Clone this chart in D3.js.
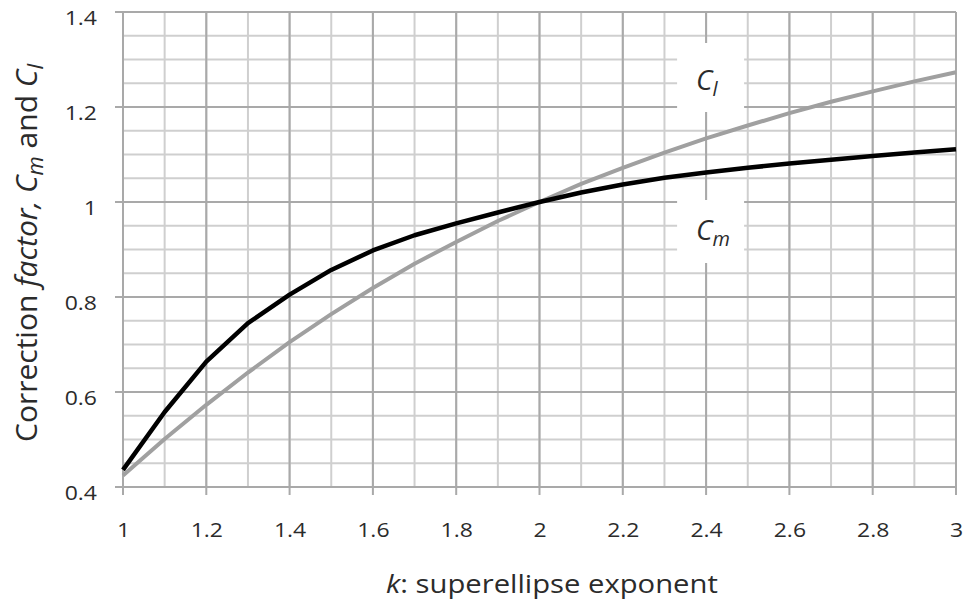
<!DOCTYPE html>
<html>
<head>
<meta charset="utf-8">
<script src="https://cdn.jsdelivr.net/npm/d3@7"></script>
<style>
  body { margin: 0; background: #fff; }
  svg { display: block; }
  text { font-family: "Open Sans", sans-serif; fill: #2b2b2b; }
</style>
</head>
<body>
<svg id="chart" width="967" height="611"></svg>
<script>
// superellipse exponent k at 0.1 steps
var kValues = [1.0, 1.1, 1.2, 1.3, 1.4, 1.5, 1.6, 1.7, 1.8, 1.9, 2.0,
               2.1, 2.2, 2.3, 2.4, 2.5, 2.6, 2.7, 2.8, 2.9, 3.0];
// C_m (black curve)
var cmValues = [0.436, 0.558, 0.664, 0.745, 0.805, 0.857, 0.898, 0.930, 0.955, 0.978, 1.000,
                1.020, 1.037, 1.051, 1.062, 1.072, 1.081, 1.089, 1.097, 1.104, 1.111];
// C_l (grey curve)
var clValues = [0.424, 0.501, 0.573, 0.641, 0.705, 0.764, 0.819, 0.870, 0.916, 0.960, 1.000,
                1.038, 1.072, 1.104, 1.134, 1.161, 1.187, 1.211, 1.233, 1.254, 1.273];

var xTicks = [1, 1.2, 1.4, 1.6, 1.8, 2, 2.2, 2.4, 2.6, 2.8, 3];
var yTicks = [0.4, 0.6, 0.8, 1, 1.2, 1.4];

var svg = d3.select('#chart');
var x = d3.scaleLinear().domain([1, 3]).range([123, 956]);
var y = d3.scaleLinear().domain([0.4, 1.4]).range([487, 12]);

// horizontal text in the original is a little wider than the font gives
var stretch = 1.15;

var majorColor = '#a9a9a9';
var minorColor = '#cfcfcf';

// minor grid: 0.1 on k, 0.05 on the factor
var grid = svg.append('g');
grid.selectAll('.vminor')
  .data(x.ticks(20))
  .enter().append('line')
  .attr('x1', function(d) { return x(d); })
  .attr('x2', function(d) { return x(d); })
  .attr('y1', y(0.4)).attr('y2', y(1.4))
  .attr('stroke', minorColor).attr('stroke-width', 2);

grid.selectAll('.hminor')
  .data(y.ticks(20))
  .enter().append('line')
  .attr('x1', x(1)).attr('x2', x(3))
  .attr('y1', function(d) { return y(d); })
  .attr('y2', function(d) { return y(d); })
  .attr('stroke', minorColor).attr('stroke-width', 2);

// major grid lines, with the little tick stubs outside the box
grid.selectAll('.vmajor')
  .data(xTicks)
  .enter().append('line')
  .attr('x1', function(d) { return x(d); })
  .attr('x2', function(d) { return x(d); })
  .attr('y1', y(1.4)).attr('y2', y(0.4) + 8)
  .attr('stroke', majorColor).attr('stroke-width', 2);

grid.selectAll('.hmajor')
  .data(yTicks)
  .enter().append('line')
  .attr('x1', x(1) - 8).attr('x2', x(3))
  .attr('y1', function(d) { return y(d); })
  .attr('y2', function(d) { return y(d); })
  .attr('stroke', majorColor).attr('stroke-width', 2);

// tick labels through d3 axes, then restyled
var xAxis = svg.append('g')
  .attr('transform', 'translate(0,' + y(0.4) + ')')
  .call(d3.axisBottom(x).tickValues(xTicks).tickSize(0).tickFormat(d3.format('')));
var yAxis = svg.append('g')
  .attr('transform', 'translate(' + x(1) + ',0)')
  .call(d3.axisLeft(y).tickValues(yTicks).tickSize(0).tickFormat(d3.format('')));

[xAxis, yAxis].forEach(function(ax) {
  ax.select('.domain').remove();
  ax.selectAll('text')
    .attr('font-family', '"Open Sans", sans-serif')
    .attr('font-size', 20)
    .style('fill', '#2b2b2b');
});
xAxis.selectAll('text')
  .attr('y', 50).attr('dy', 0)
  .attr('transform', 'scale(' + stretch + ',1)');
yAxis.selectAll('text')
  .attr('x', -26 / stretch).attr('y', 12).attr('dy', 0)
  .attr('transform', 'scale(' + stretch + ',1)');

// white boxes behind the curve names
svg.append('rect')
  .attr('x', x(2.4) - 29).attr('y', 43).attr('width', 67).attr('height', 69)
  .attr('fill', '#fff');
svg.append('rect')
  .attr('x', x(2.4) - 29).attr('y', 200).attr('width', 67).attr('height', 63)
  .attr('fill', '#fff');

// curves
var curve = d3.line()
  .x(function(d, i) { return x(kValues[i]); })
  .y(function(d) { return y(d); });

svg.append('path')
  .datum(clValues)
  .attr('d', curve)
  .attr('fill', 'none')
  .attr('stroke', '#a0a0a0')
  .attr('stroke-width', 4)
  .attr('stroke-linejoin', 'round');

svg.append('path')
  .datum(cmValues)
  .attr('d', curve)
  .attr('fill', 'none')
  .attr('stroke', '#000')
  .attr('stroke-width', 4.5)
  .attr('stroke-linejoin', 'round');

// curve names
function curveName(px, py, sub) {
  var t = svg.append('text')
    .attr('x', px).attr('y', py)
    .attr('font-size', 28)
    .attr('font-style', 'italic');
  t.append('tspan').text('C');
  t.append('tspan').attr('font-size', 20).attr('dy', 6).text(sub);
}
curveName(696, 90, 'l');
curveName(696, 240, 'm');

// x title
var xt = svg.append('text')
  .attr('transform', 'translate(386,593) scale(1.17,1)')
  .attr('font-size', 25);
xt.append('tspan').attr('font-style', 'italic').text('k');
xt.append('tspan').text(': superellipse exponent');

// y title (rotated)
var yt = svg.append('text')
  .attr('transform', 'translate(37,253) rotate(-90)')
  .attr('text-anchor', 'middle')
  .attr('font-size', 30);
yt.append('tspan').text('Correction ');
yt.append('tspan').attr('font-style', 'italic').text('factor,');
yt.append('tspan').text('  ');
yt.append('tspan').attr('font-style', 'italic').text('C');
yt.append('tspan').attr('font-style', 'italic').attr('font-size', 22).attr('dy', 6).text('m');
yt.append('tspan').attr('dy', -6).text(' and ');
yt.append('tspan').attr('font-style', 'italic').text('C');
yt.append('tspan').attr('font-style', 'italic').attr('font-size', 22).attr('dy', 6).text('l');
</script>
</body>
</html>
